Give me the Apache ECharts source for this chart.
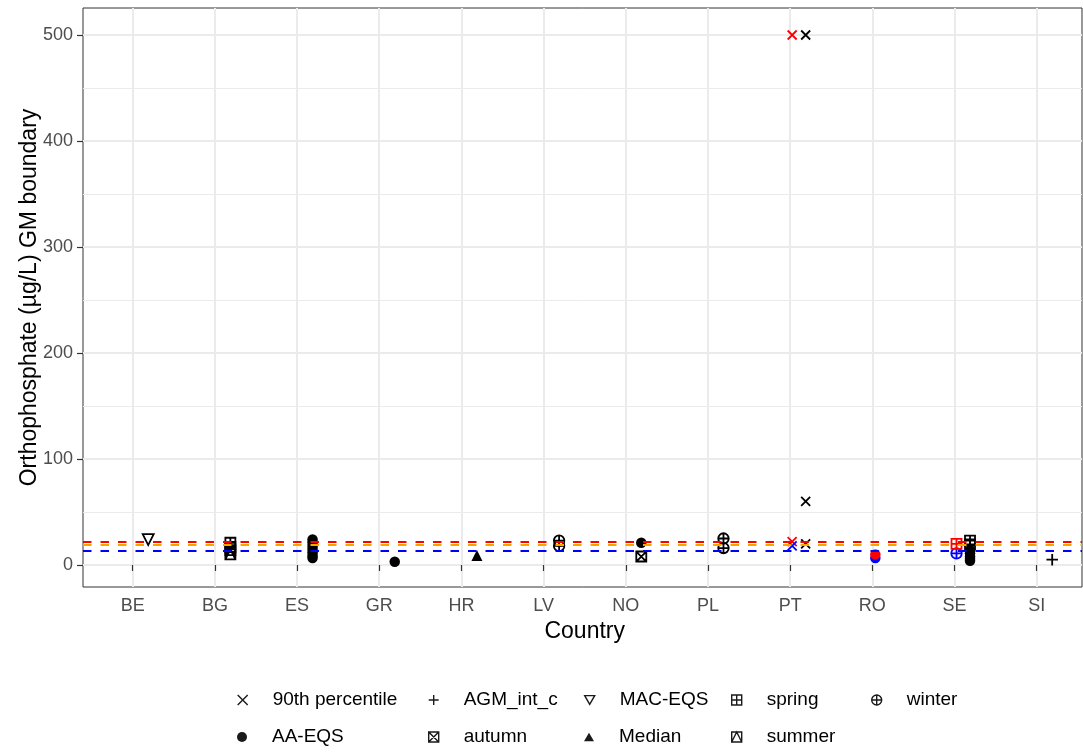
<!DOCTYPE html>
<html>
<head>
<meta charset="utf-8">
<script src="https://cdn.jsdelivr.net/npm/echarts@6/dist/echarts.min.js"></script>
<style>
  html, body { margin: 0; padding: 0; background: #ffffff; }
  #chart { width: 1083px; height: 754px; }
</style>
</head>
<body>
<div id="chart"></div>
<script>
// Countries on the x axis
const categories = ['BE', 'BG', 'ES', 'GR', 'HR', 'LV', 'NO', 'PL', 'PT', 'RO', 'SE', 'SI'];
// y axis tick values
const yTicks = [0, 100, 200, 300, 400, 500];

// GM boundary values per country, grouped by metric / season (black points)
const pct90 = [['PT', 500], ['PT', 60], ['PT', 20]];
const aaEqs = [['ES', 24], ['ES', 21], ['ES', 18], ['ES', 15], ['ES', 12], ['ES', 9], ['ES', 6.5],
               ['GR', 3], ['NO', 21],
               ['SE', 14], ['SE', 11], ['SE', 8], ['SE', 6], ['SE', 4]];
const agmIntC = [['SI', 5]];
const autumn = [['BG', 14], ['NO', 8]];
const macEqs = [['BE', 24]];
const median = [['HR', 9]];
const spring = [['BG', 21], ['BG', 17], ['SE', 23], ['SE', 19.5]];
const summer = [['BG', 10]];
const winter = [['LV', 23], ['LV', 18], ['PL', 25], ['PL', 16]];

// Upper (red) and lower (blue) boundary points
const pct90Upper = [['PT', 500], ['PT', 22]];
const pct90Lower = [['PT', 18]];
const aaEqsUpper = [['RO', 10]];
const aaEqsLower = [['RO', 6.5]];
const springUpper = [['SE', 20]];
const winterLower = [['SE', 11]];

// Reference boundary levels (dashed lines)
const refUpper = 22;
const refMid = 19.5;
const refLower = 13.5;

// Point glyphs
const SYM = {
  cross: 'path://M0,0L10,10M10,0L0,10',
  plus: 'path://M5,0V10M0,5H10',
  triDown: 'path://M0,0H10L5,8.66Z',
  triUp: 'path://M5,0L10,8.66H0Z',
  sqPlus: 'path://M0,0H10V10H0ZM5,0V10M0,5H10',
  circPlus: 'path://M0,5A5,5,0,1,1,10,5A5,5,0,1,1,0,5ZM5,0V10M0,5H10',
  sqCross: 'path://M0,0H10V10H0ZM0,0L10,10M10,0L0,10',
  sqTri: 'path://M0,0H10V10H0ZM0,10L5,0L10,10'
};
const GLYPH = {
  '90th percentile': { symbol: SYM.cross, filled: false, size: 9 },
  'AA-EQS': { symbol: 'circle', filled: true, size: 10.5 },
  'AGM_int_c': { symbol: SYM.plus, filled: false, size: 11.5 },
  'autumn': { symbol: SYM.sqCross, filled: false, size: 10 },
  'MAC-EQS': { symbol: SYM.triDown, filled: false, size: 11 },
  'Median': { symbol: SYM.triUp, filled: true, size: 11 },
  'spring': { symbol: SYM.sqPlus, filled: false, size: 10 },
  'summer': { symbol: SYM.sqTri, filled: false, size: 10 },
  'winter': { symbol: SYM.circPlus, filled: false, size: 10.5 }
};

const BLACK = '#000000';
const RED = '#ff0000';
const BLUE = '#0000ff';
const DODGE_MAIN = 15.5;
const DODGE_BOUND = 2;
const STROKE = 1.8;

function pointSeries(name, data, color, dodge) {
  const g = GLYPH[name];
  return {
    type: 'scatter',
    name: name,
    xAxisIndex: 2,
    yAxisIndex: 2,
    data: data,
    symbol: g.symbol,
    symbolSize: g.size,
    symbolOffset: [dodge, 0],
    silent: true,
    z: 3,
    itemStyle: g.filled
      ? { color: color, borderWidth: 0, opacity: 1 }
      : { color: 'transparent', borderColor: color, borderWidth: STROKE, opacity: 1 }
  };
}

const series = [
  pointSeries('90th percentile', pct90, BLACK, DODGE_MAIN),
  pointSeries('AA-EQS', aaEqs, BLACK, DODGE_MAIN),
  pointSeries('AGM_int_c', agmIntC, BLACK, DODGE_MAIN),
  pointSeries('autumn', autumn, BLACK, DODGE_MAIN),
  pointSeries('MAC-EQS', macEqs, BLACK, DODGE_MAIN),
  pointSeries('Median', median, BLACK, DODGE_MAIN),
  pointSeries('spring', spring, BLACK, DODGE_MAIN),
  pointSeries('summer', summer, BLACK, DODGE_MAIN),
  pointSeries('winter', winter, BLACK, DODGE_MAIN),
  pointSeries('90th percentile', pct90Upper, RED, DODGE_BOUND),
  pointSeries('90th percentile', pct90Lower, BLUE, DODGE_BOUND),
  pointSeries('AA-EQS', aaEqsLower, BLUE, DODGE_BOUND + 1),
  pointSeries('AA-EQS', aaEqsUpper, RED, DODGE_BOUND + 1),
  pointSeries('winter', winterLower, BLUE, DODGE_BOUND),
  pointSeries('spring', springUpper, RED, DODGE_BOUND),
  {
    // dashed boundary levels across the full panel width
    type: 'scatter',
    name: 'levels',
    xAxisIndex: 1,
    yAxisIndex: 1,
    data: [],
    silent: true,
    markLine: {
      silent: true,
      symbol: 'none',
      label: { show: false },
      z: 10,
      animation: false,
      data: [
        { yAxis: refUpper, lineStyle: { color: RED } },
        { yAxis: refMid, lineStyle: { color: '#ffa500' } },
        { yAxis: refLower, lineStyle: { color: BLUE } }
      ],
      lineStyle: { type: [8.5, 9], width: 2 }
    }
  }
];

// Legend: one component per key so the columns line up
const legendSlots = [
  { name: '90th percentile', cx: 242, cy: 700 },
  { name: 'AA-EQS', cx: 242, cy: 737 },
  { name: 'AGM_int_c', cx: 433, cy: 700 },
  { name: 'autumn', cx: 433, cy: 737 },
  { name: 'MAC-EQS', cx: 589, cy: 700 },
  { name: 'Median', cx: 589, cy: 737 },
  { name: 'spring', cx: 736, cy: 700 },
  { name: 'summer', cx: 736, cy: 737 },
  { name: 'winter', cx: 876, cy: 700 }
];
const LEGEND_KEY = 10;
const LEGEND_TEXT_GAP = 30; // from key centre to label start
const LEGEND_LINE_H = 22;
const LEGEND_INK = '#1a1a1a';
const legends = legendSlots.map(s => {
  const g = GLYPH[s.name];
  return {
    left: s.cx - LEGEND_KEY / 2,
    top: s.cy - LEGEND_LINE_H / 2,
    padding: 0,
    itemWidth: LEGEND_KEY,
    itemHeight: LEGEND_KEY,
    selectedMode: false,
    textStyle: {
      fontSize: 19, color: '#000000', fontFamily: 'Liberation Sans', lineHeight: LEGEND_LINE_H,
      padding: [0, 0, 0, LEGEND_TEXT_GAP - LEGEND_KEY / 2 - 5]
    },
    data: [{
      name: s.name,
      icon: g.symbol,
      itemStyle: g.filled
        ? { color: LEGEND_INK, borderWidth: 0 }
        : { color: 'transparent', borderColor: LEGEND_INK, borderWidth: 1.4 }
    }]
  };
});

const FONT = 'Liberation Sans';
const option = {
  animation: false,
  backgroundColor: '#ffffff',
  textStyle: { fontFamily: FONT },
  grid: [
    // panel frame
    { left: 83, top: 8, width: 999, height: 579, show: true, borderColor: '#333333', borderWidth: 1, backgroundColor: 'transparent' },
    // horizontal grid of the value scale
    { left: 83, top: 35, width: 999, height: 530, show: false },
    // data area: category centres
    { left: 132.7, top: 8, width: 904, height: 579, show: false }
  ],
  xAxis: [
    { gridIndex: 0, type: 'value', show: false, min: 0, max: 1 },
    { gridIndex: 1, type: 'value', show: false, min: 0, max: 1 },
    {
      gridIndex: 2,
      type: 'category',
      data: categories,
      boundaryGap: false,
      name: 'Country',
      nameLocation: 'middle',
      nameGap: 33,
      nameTextStyle: { fontSize: 23, color: '#000000', fontFamily: FONT },
      axisLine: { show: false },
      axisTick: { show: true, length: 6, interval: 0, lineStyle: { color: '#333333', width: 1.2 } },
      axisLabel: { show: true, interval: 0, margin: 10, fontSize: 18, color: '#4d4d4d', fontFamily: FONT },
      splitLine: { show: true, interval: 0, lineStyle: { color: '#ebebeb', width: 2 } }
    }
  ],
  yAxis: [
    { gridIndex: 0, type: 'value', show: false, min: 0, max: 1 },
    {
      gridIndex: 1,
      type: 'value',
      min: yTicks[0],
      max: yTicks[yTicks.length - 1],
      interval: yTicks[1] - yTicks[0],
      axisLine: { show: false },
      axisTick: { show: true, length: 6, lineStyle: { color: '#333333', width: 1.2 } },
      axisLabel: { show: true, margin: 10, fontSize: 18, color: '#4d4d4d', fontFamily: FONT },
      splitLine: { show: true, lineStyle: { color: '#ebebeb', width: 2 } },
      minorTick: { show: false, splitNumber: 2 },
      minorSplitLine: { show: true, lineStyle: { color: '#ebebeb', width: 1 } }
    },
    {
      gridIndex: 2,
      type: 'value',
      min: -20.75,
      max: 525.47,
      name: 'Orthophosphate (µg/L) GM boundary',
      nameLocation: 'middle',
      nameRotate: 90,
      nameGap: 92,
      nameTextStyle: { fontSize: 23, color: '#000000', fontFamily: FONT },
      axisLine: { show: false },
      axisTick: { show: false },
      axisLabel: { show: false },
      splitLine: { show: false }
    }
  ],
  legend: legends,
  series: series
};

const chart = echarts.init(document.getElementById('chart'), null, { renderer: 'canvas' });
chart.setOption(option);
</script>
</body>
</html>
